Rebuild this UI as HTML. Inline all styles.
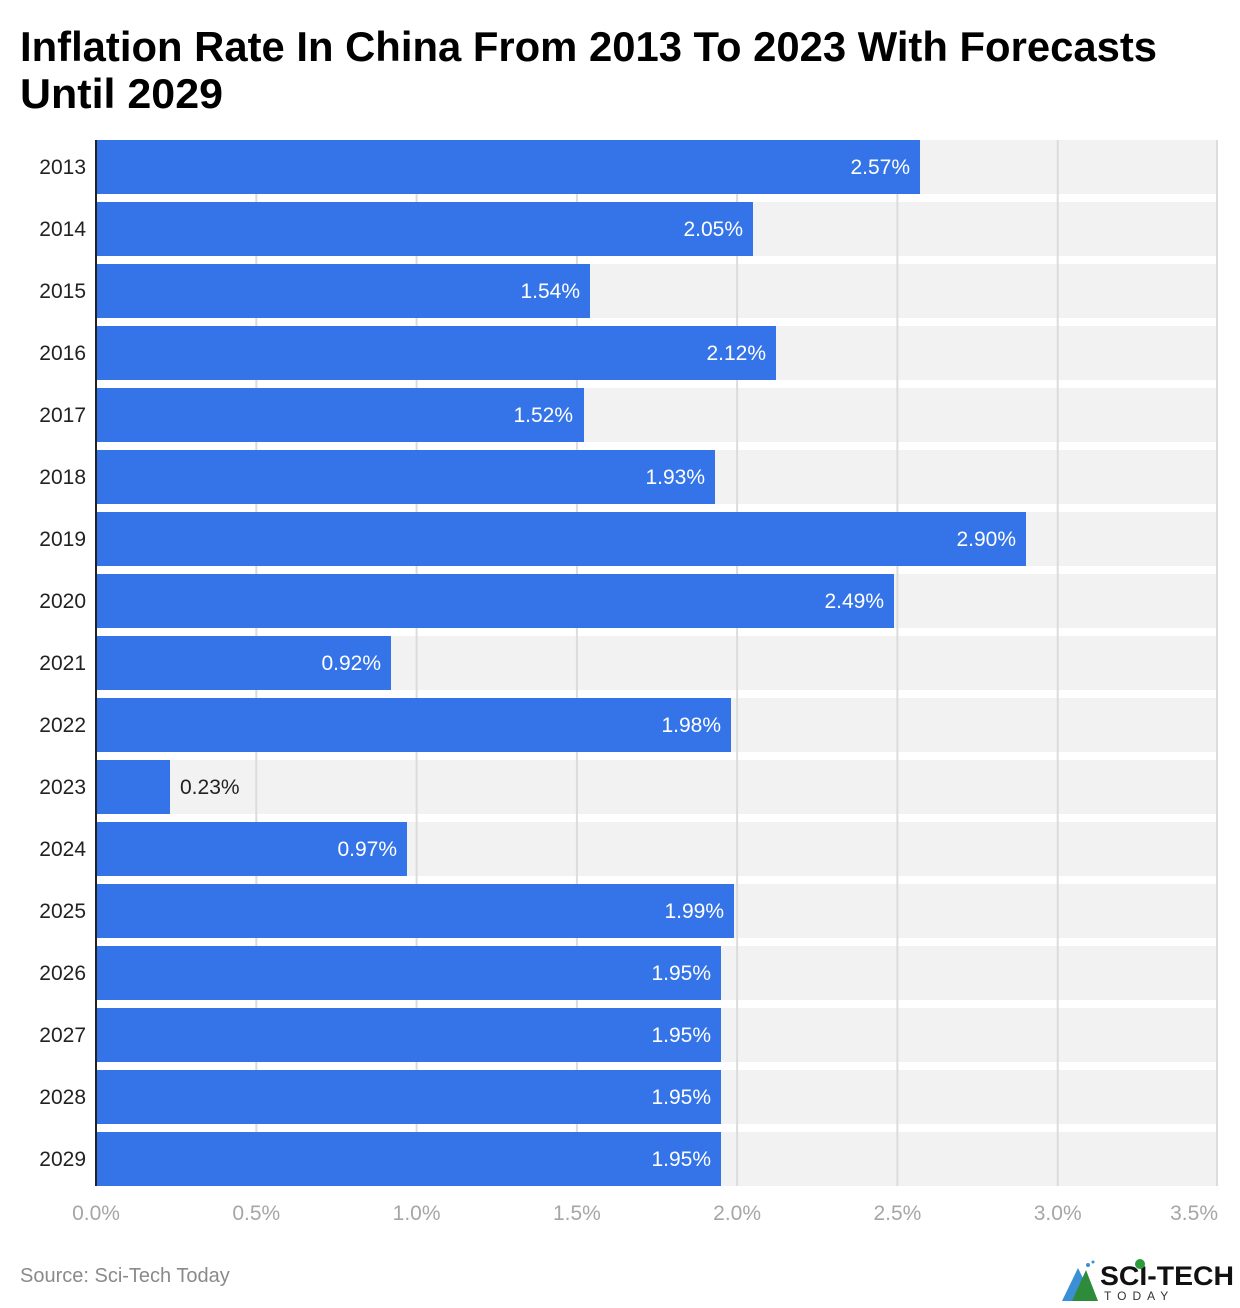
<!DOCTYPE html>
<html><head><meta charset="utf-8"><style>
html,body{margin:0;padding:0;background:#fff;}
svg{display:block;font-family:"Liberation Sans",sans-serif;}
.y{font-size:21px;fill:#222;text-anchor:end}
.v{font-size:21px;fill:#fff;text-anchor:end}
.t{font-size:21px;fill:#a6a6a6;text-anchor:middle}
</style></head><body>
<svg width="1240" height="1308" viewBox="0 0 1240 1308" xmlns="http://www.w3.org/2000/svg">
<text x="20" y="61" font-size="42" font-weight="bold" fill="#000" textLength="1137" lengthAdjust="spacingAndGlyphs">Inflation Rate In China From 2013 To 2023 With Forecasts</text>
<text x="20" y="108" font-size="42" font-weight="bold" fill="#000" textLength="203" lengthAdjust="spacingAndGlyphs">Until 2029</text>
<g fill="#f2f2f2">
<rect x="97" y="140" width="1121" height="54"/><rect x="97" y="202" width="1121" height="54"/><rect x="97" y="264" width="1121" height="54"/><rect x="97" y="326" width="1121" height="54"/><rect x="97" y="388" width="1121" height="54"/><rect x="97" y="450" width="1121" height="54"/><rect x="97" y="512" width="1121" height="54"/><rect x="97" y="574" width="1121" height="54"/><rect x="97" y="636" width="1121" height="54"/><rect x="97" y="698" width="1121" height="54"/><rect x="97" y="760" width="1121" height="54"/><rect x="97" y="822" width="1121" height="54"/><rect x="97" y="884" width="1121" height="54"/><rect x="97" y="946" width="1121" height="54"/><rect x="97" y="1008" width="1121" height="54"/><rect x="97" y="1070" width="1121" height="54"/><rect x="97" y="1132" width="1121" height="54"/>
</g>
<g stroke="#dcdcdc" stroke-width="2">
<line x1="256.3" y1="140" x2="256.3" y2="1186"/><line x1="416.6" y1="140" x2="416.6" y2="1186"/><line x1="576.9" y1="140" x2="576.9" y2="1186"/><line x1="737.1" y1="140" x2="737.1" y2="1186"/><line x1="897.4" y1="140" x2="897.4" y2="1186"/><line x1="1057.7" y1="140" x2="1057.7" y2="1186"/><line x1="1217" y1="140" x2="1217" y2="1186"/>
</g>
<g fill="#3474e8">
<rect x="97" y="140" width="823" height="54"/>
<rect x="97" y="202" width="656" height="54"/>
<rect x="97" y="264" width="493" height="54"/>
<rect x="97" y="326" width="679" height="54"/>
<rect x="97" y="388" width="487" height="54"/>
<rect x="97" y="450" width="618" height="54"/>
<rect x="97" y="512" width="929" height="54"/>
<rect x="97" y="574" width="797" height="54"/>
<rect x="97" y="636" width="294" height="54"/>
<rect x="97" y="698" width="634" height="54"/>
<rect x="97" y="760" width="73" height="54"/>
<rect x="97" y="822" width="310" height="54"/>
<rect x="97" y="884" width="637" height="54"/>
<rect x="97" y="946" width="624" height="54"/>
<rect x="97" y="1008" width="624" height="54"/>
<rect x="97" y="1070" width="624" height="54"/>
<rect x="97" y="1132" width="624" height="54"/>
</g>
<rect x="95" y="140" width="2" height="1046" fill="#222"/>
<text class="y" x="86" y="174">2013</text><text class="v" x="910" y="174">2.57%</text>
<text class="y" x="86" y="236">2014</text><text class="v" x="743" y="236">2.05%</text>
<text class="y" x="86" y="298">2015</text><text class="v" x="580" y="298">1.54%</text>
<text class="y" x="86" y="360">2016</text><text class="v" x="766" y="360">2.12%</text>
<text class="y" x="86" y="422">2017</text><text class="v" x="573" y="422">1.52%</text>
<text class="y" x="86" y="484">2018</text><text class="v" x="705" y="484">1.93%</text>
<text class="y" x="86" y="546">2019</text><text class="v" x="1016" y="546">2.90%</text>
<text class="y" x="86" y="608">2020</text><text class="v" x="884" y="608">2.49%</text>
<text class="y" x="86" y="670">2021</text><text class="v" x="381" y="670">0.92%</text>
<text class="y" x="86" y="732">2022</text><text class="v" x="721" y="732">1.98%</text>
<text class="y" x="86" y="794">2023</text><text x="180" y="794" font-size="21" fill="#222">0.23%</text>
<text class="y" x="86" y="856">2024</text><text class="v" x="397" y="856">0.97%</text>
<text class="y" x="86" y="918">2025</text><text class="v" x="724" y="918">1.99%</text>
<text class="y" x="86" y="980">2026</text><text class="v" x="711" y="980">1.95%</text>
<text class="y" x="86" y="1042">2027</text><text class="v" x="711" y="1042">1.95%</text>
<text class="y" x="86" y="1104">2028</text><text class="v" x="711" y="1104">1.95%</text>
<text class="y" x="86" y="1166">2029</text><text class="v" x="711" y="1166">1.95%</text>
<text class="t" x="96" y="1220">0.0%</text>
<text class="t" x="256.3" y="1220">0.5%</text>
<text class="t" x="416.6" y="1220">1.0%</text>
<text class="t" x="576.9" y="1220">1.5%</text>
<text class="t" x="737.1" y="1220">2.0%</text>
<text class="t" x="897.4" y="1220">2.5%</text>
<text class="t" x="1057.7" y="1220">3.0%</text>
<text x="1218" y="1220" font-size="21" fill="#a6a6a6" text-anchor="end">3.5%</text>
<text x="20" y="1282" font-size="20" fill="#8a8a8a">Source: Sci-Tech Today</text>
<g>
<polygon points="1062,1301 1078,1268 1094,1301" fill="#3b8fd6"/>
<polygon points="1072,1301 1086,1270 1098,1301" fill="#2e8b3a"/>
<circle cx="1088" cy="1265" r="2" fill="#3b8fd6"/><circle cx="1093" cy="1262" r="1.5" fill="#3b8fd6"/>
<text x="1100" y="1285" font-size="27" font-weight="bold" fill="#111" textLength="134" lengthAdjust="spacingAndGlyphs">SCI-TECH</text>
<text x="1104" y="1300" font-size="12" fill="#333" letter-spacing="6">TODAY</text>
<circle cx="1140" cy="1264" r="5" fill="#2e9b3a"/>
</g>
</svg>
</body></html>
